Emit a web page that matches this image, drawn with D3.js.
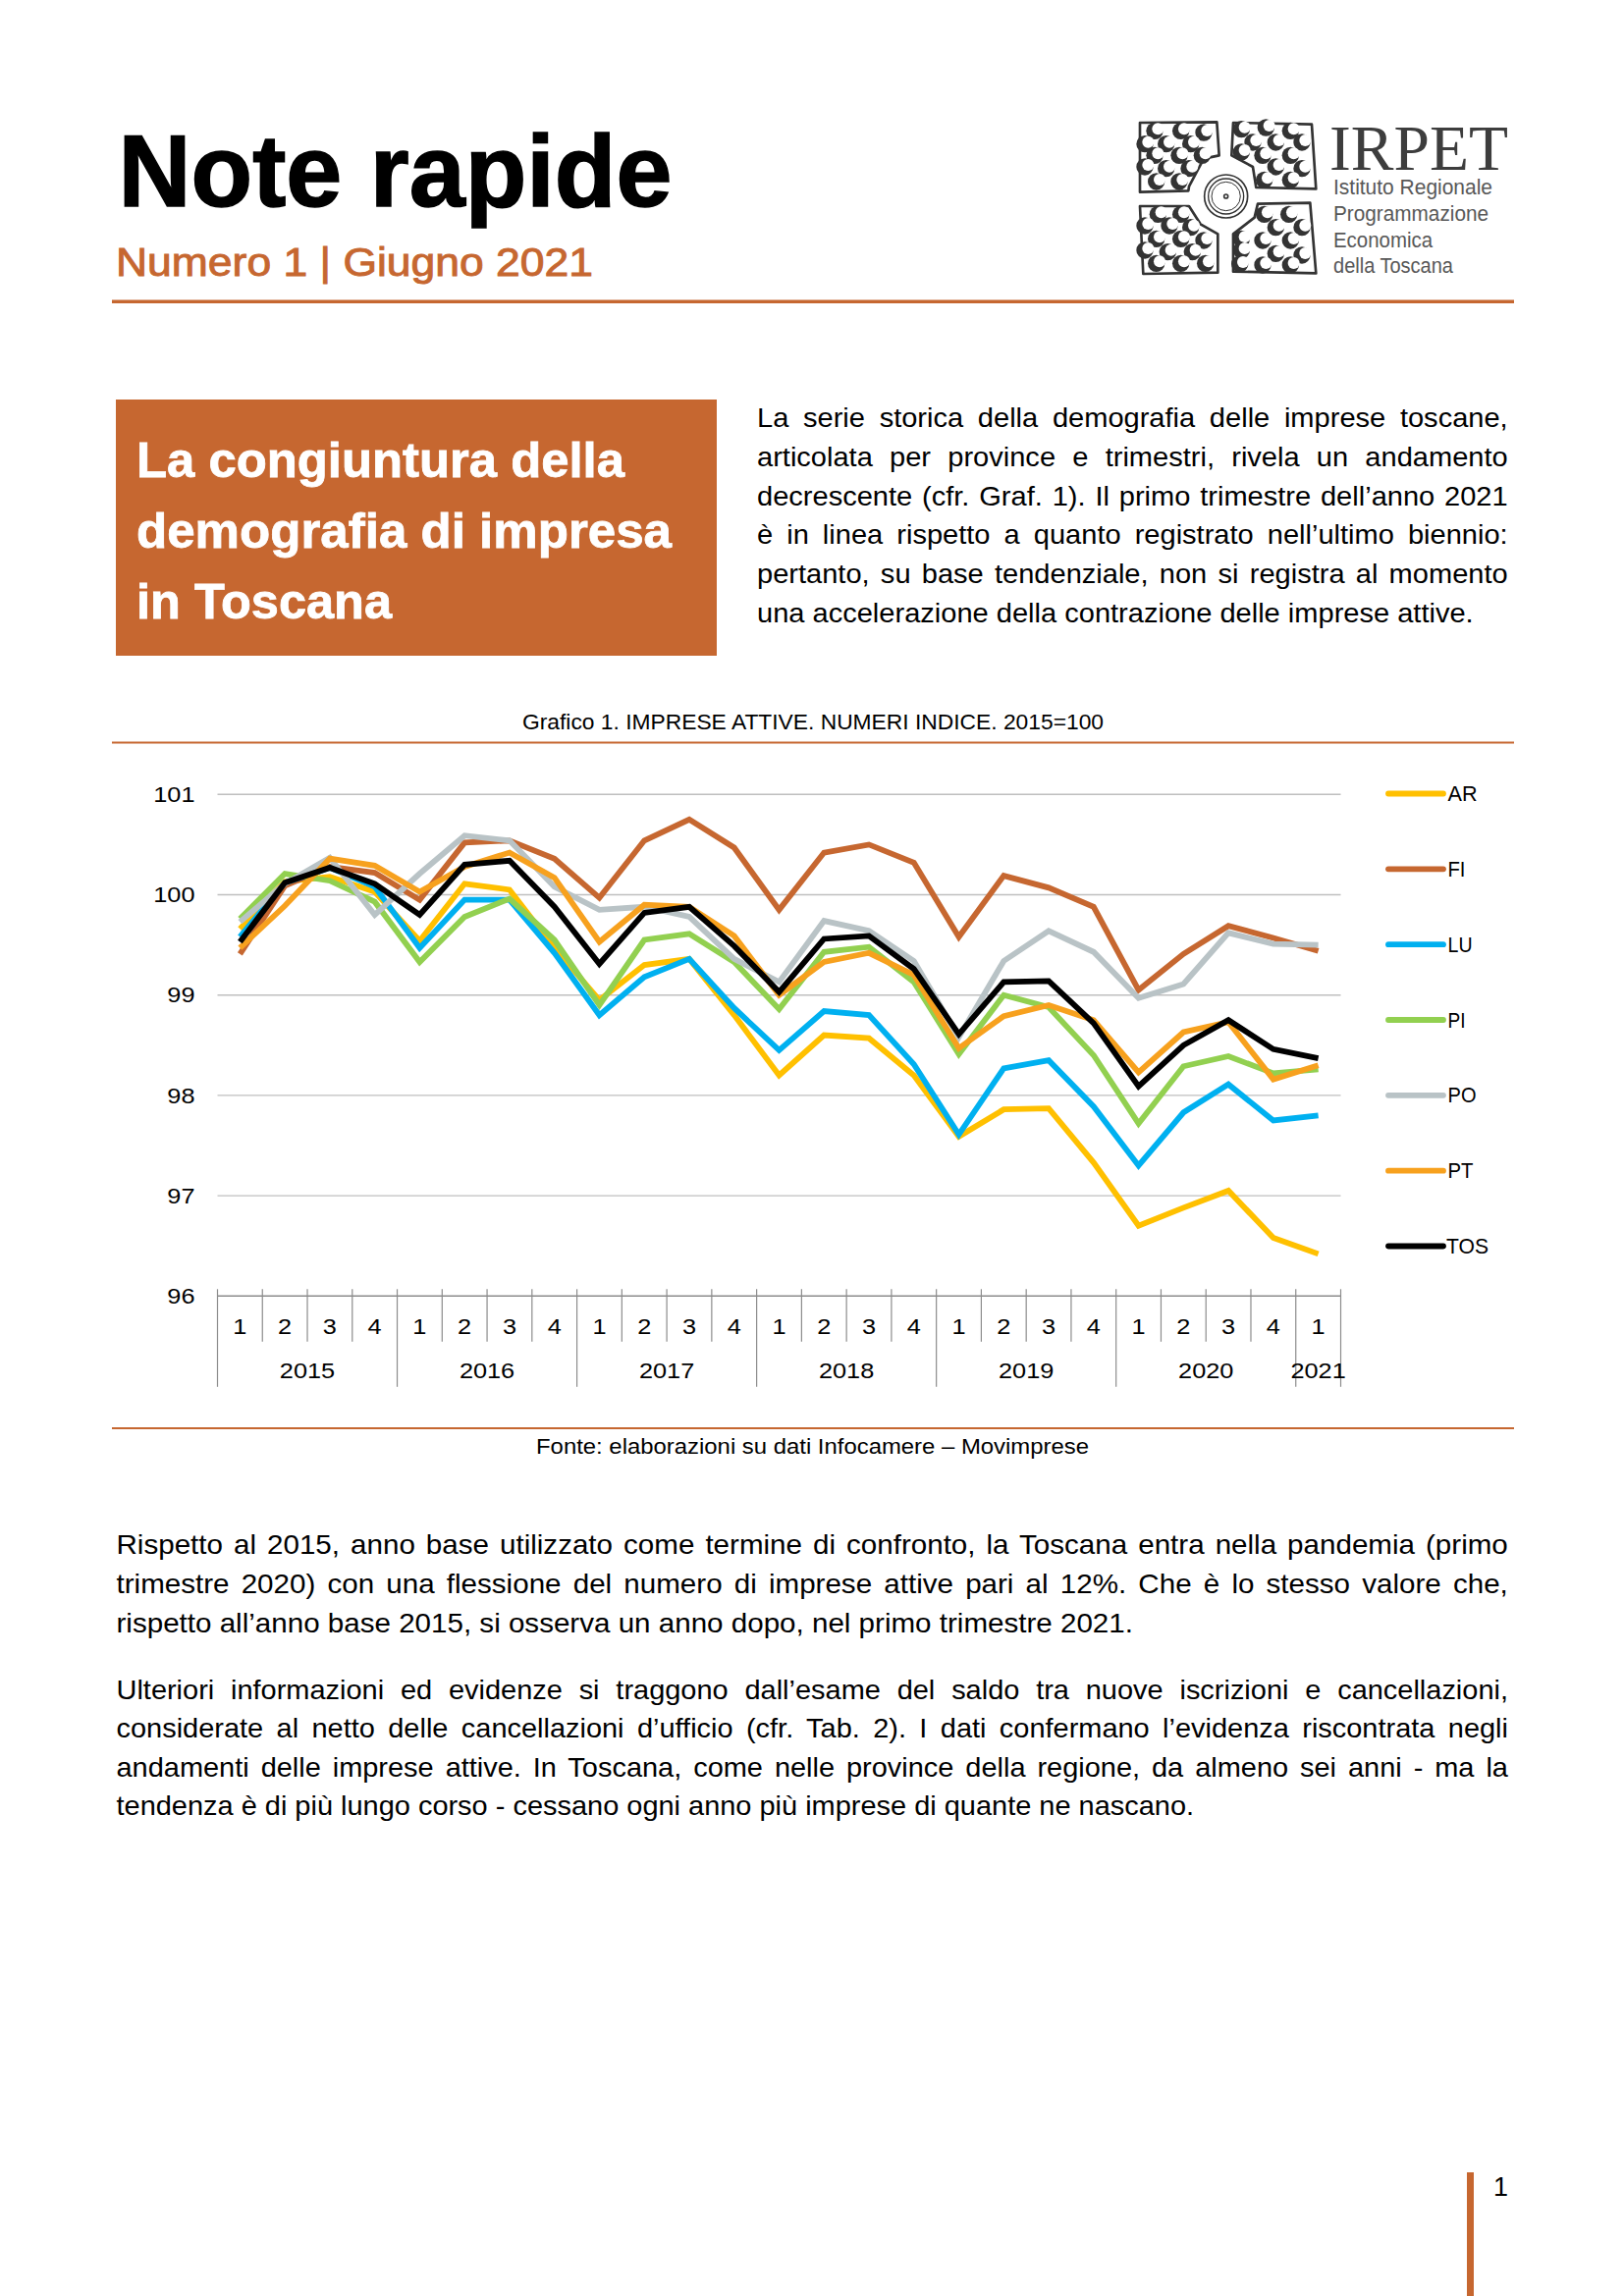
<!DOCTYPE html>
<html lang="it">
<head>
<meta charset="utf-8">
<title>Note rapide</title>
<script src="https://cdn.jsdelivr.net/npm/d3@7/dist/d3.min.js"></script>
<style>
html,body{margin:0;padding:0;background:#fff}
svg{display:block}
text{font-family:"Liberation Sans",Arial,sans-serif;fill:#000}
</style>
</head>
<body>
<svg id="page" width="1654" height="2339" viewBox="0 0 1654 2339"></svg>
<script>
// ---- chart data ----
const quarters = ["1","2","3","4","1","2","3","4","1","2","3","4","1","2","3","4","1","2","3","4","1","2","3","4","1"];
const years = ["2015","2016","2017","2018","2019","2020","2021"];
const yTicks = [96,97,98,99,100,101];
const AR  = [99.66,100.13,100.18,100.03,99.54,100.11,100.05,99.47,98.95,99.30,99.36,98.80,98.20,98.60,98.57,98.20,97.59,97.86,97.87,97.33,96.70,96.88,97.05,96.58,96.42];
const FI  = [99.41,100.09,100.28,100.22,99.95,100.52,100.54,100.36,99.97,100.54,100.75,100.47,99.85,100.42,100.50,100.32,99.58,100.19,100.07,99.88,99.05,99.41,99.69,99.57,99.44];
const LU  = [99.58,100.12,100.27,100.08,99.47,99.95,99.95,99.42,98.80,99.18,99.36,98.87,98.45,98.84,98.80,98.31,97.61,98.27,98.35,97.89,97.30,97.83,98.11,97.75,97.80];
const PI  = [99.76,100.21,100.14,99.93,99.33,99.78,99.96,99.55,98.90,99.55,99.61,99.33,98.86,99.43,99.48,99.13,98.41,99.00,98.88,98.40,97.72,98.29,98.39,98.22,98.26];
const PO  = [99.73,100.11,100.37,99.80,100.21,100.59,100.54,100.08,99.85,99.88,99.78,99.36,99.13,99.74,99.64,99.34,98.58,99.34,99.64,99.43,98.97,99.11,99.62,99.51,99.50];
const PT  = [99.47,99.89,100.36,100.29,100.03,100.28,100.42,100.17,99.53,99.90,99.88,99.59,99.00,99.33,99.42,99.20,98.47,98.79,98.90,98.75,98.23,98.63,98.73,98.16,98.30];
const TOS = [99.53,100.12,100.27,100.11,99.80,100.30,100.34,99.88,99.31,99.82,99.88,99.49,99.03,99.56,99.59,99.26,98.61,99.13,99.14,98.72,98.09,98.50,98.75,98.46,98.37];
const seriesNames = ["AR","FI","LU","PI","PO","PT","TOS"];
const seriesValues = [AR,FI,LU,PI,PO,PT,TOS];
const seriesColors = ["#FFC000","#C66730","#00B0F0","#92D050","#B9C3C6","#F7A11E","#000000"];

// ---- page text ----
const BRAND = "#C66730";
const svg = d3.select("#page");

function fit(txt, x, y, w, size, opt = {}) {
  const t = svg.append("text").attr("x", x).attr("y", y).attr("font-size", size)
    .attr("font-weight", opt.bold ? "bold" : "normal")
    .style("fill", opt.fill || "#000").text(txt);
  if (opt.family) t.style("font-family", opt.family);
  if (opt.heavy) t.style("stroke", opt.fill || "#000").style("stroke-width", opt.heavy);
  if (w) t.attr("textLength", w).attr("lengthAdjust", "spacingAndGlyphs");
  return t;
}

// justified block: glyphs condensed by the ratio of its last (free) line, word gaps fill the rest
function block(lines, x, width, lastWidth, size) {
  const nat = s => {
    const t = svg.append("text").attr("font-size", size).text(s);
    const w = t.node().getComputedTextLength();
    t.remove();
    return w;
  };
  const k = lastWidth / nat(lines[lines.length - 1][0]);
  lines.forEach((d, i) => {
    const t = svg.append("text").attr("font-size", size)
      .attr("transform", `translate(${x},${d[1]}) scale(${k},1)`).text(d[0]);
    if (i < lines.length - 1) {
      const gaps = d[0].split(" ").length - 1;
      t.style("word-spacing", ((width / k - nat(d[0])) / gaps) + "px");
    }
  });
}

svg.append("rect").attr("width",1654).attr("height",2339).attr("fill","#fff");

fit("Note rapide", 120.5, 210, 564, 104, {bold:true, heavy:1.5});
fit("Numero 1 | Giugno 2021", 118, 281, 486, 40, {fill:BRAND, heavy:0.9});
svg.append("rect").attr("x",114).attr("y",305.5).attr("width",1428).attr("height",3.5).attr("fill",BRAND);

svg.append("rect").attr("x",118).attr("y",407).attr("width",612).attr("height",261).attr("fill",BRAND);
[["La congiuntura della",486,497],["demografia di impresa",557.5,545],["in Toscana",630,260]].forEach(d =>
  fit(d[0],139,d[1],d[2],50,{bold:true,fill:"#fff",heavy:0.8}));

block([["La serie storica della demografia delle imprese toscane,",435],
 ["articolata per province e trimestri, rivela un andamento",475],
 ["decrescente (cfr. Graf. 1). Il primo trimestre dell’anno 2021",514.5],
 ["è in linea rispetto a quanto registrato nell’ultimo biennio:",554],
 ["pertanto, su base tendenziale, non si registra al momento",594],
 ["una accelerazione della contrazione delle imprese attive.",633.5]], 771, 765, 730, 28.5);

fit("Grafico 1. IMPRESE ATTIVE. NUMERI INDICE. 2015=100",532,743,592,21.5);
svg.append("rect").attr("x",114).attr("y",755.5).attr("width",1428).attr("height",2).attr("fill",BRAND);
svg.append("rect").attr("x",114).attr("y",1454).attr("width",1428).attr("height",2).attr("fill",BRAND);
fit("Fonte: elaborazioni su dati Infocamere – Movimprese",546,1481,563,21.5);

block([["Rispetto al 2015, anno base utilizzato come termine di confronto, la Toscana entra nella pandemia (primo",1583],
 ["trimestre 2020) con una flessione del numero di imprese attive pari al 12%. Che è lo stesso valore che,",1622.5],
 ["rispetto all’anno base 2015, si osserva un anno dopo, nel primo trimestre 2021.",1662.5]], 118.5, 1418, 1036, 28.5);
block([["Ulteriori informazioni ed evidenze si traggono dall’esame del saldo tra nuove iscrizioni e cancellazioni,",1730.5],
 ["considerate al netto delle cancellazioni d’ufficio (cfr. Tab. 2). I dati confermano l’evidenza riscontrata negli",1770],
 ["andamenti delle imprese attive. In Toscana, come nelle province della regione, da almeno sei anni - ma la",1809.5],
 ["tendenza è di più lungo corso - cessano ogni anno più imprese di quante ne nascano.",1849]], 118.5, 1418, 1098, 28.5);

svg.append("rect").attr("x",1494).attr("y",2213).attr("width",7).attr("height",126).attr("fill",BRAND);
fit("1",1521,2237,15,27);

// ---- logo ----
const logo = svg.append("g").attr("transform","translate(1151,115) scale(0.3333)");
const DARK = "#333";
const tiles = [
 {p:"30,30 265,28 272,130 225,140 180,225 178,238 30,242",
  c:[[75,55],[155,55],[225,60],[45,95],[110,95],[185,95],[75,130],[150,130],[220,130],[45,165],[110,170],[180,170],[80,210],[150,210]]},
 {p:"315,30 555,35 568,232 385,228 375,165 310,130",
  c:[[340,50],[415,45],[490,55],[375,90],[445,90],[525,90],[340,120],[405,130],[490,130],[445,165],[525,170],[410,205],[490,205]]},
 {p:"30,285 180,285 215,340 268,370 268,488 40,492",
  c:[[85,310],[155,310],[45,345],[120,345],[185,350],[80,385],[155,385],[225,390],[45,420],[115,425],[190,425],[80,460],[155,460],[230,460]]},
 {p:"390,278 550,275 568,490 315,485 315,370 380,320",
  c:[[410,310],[485,310],[445,350],[525,350],[340,385],[405,390],[490,390],[340,420],[445,430],[525,435],[405,465],[490,465],[335,462]]}
];
tiles.forEach(t => {
  logo.append("polygon").attr("points",t.p).attr("fill","#fff").attr("stroke",DARK).attr("stroke-width",8).attr("stroke-linejoin","round");
  t.c.forEach(c => {
    logo.append("circle").attr("cx",c[0]).attr("cy",c[1]).attr("r",26).attr("fill",DARK);
    logo.append("circle").attr("cx",c[0]+10).attr("cy",c[1]-6).attr("r",18).attr("fill","#fff");
  });
});
[[66,5],[54,4],[44,3]].forEach(r =>
  logo.append("circle").attr("cx",293).attr("cy",255).attr("r",r[0]).attr("fill","none").attr("stroke",DARK).attr("stroke-width",r[1]));
logo.append("circle").attr("cx",293).attr("cy",255).attr("r",6).attr("fill","none").attr("stroke",DARK).attr("stroke-width",5);

fit("IRPET",1354,173,182,65,{fill:"#3d3d3d",family:'"Liberation Serif",serif'});
[["Istituto Regionale",198,162],["Programmazione",225,158],["Economica",252,101],["della Toscana",278,122]]
 .forEach(d => fit(d[0],1358,d[1],d[2],22,{fill:"#585858"}));

// ---- chart ----
const x = d3.scaleBand().domain(d3.range(quarters.length)).range([221.5,1365.5]);
const y = d3.scaleLinear().domain([96,101]).range([1320.3,809.3]);
const chart = svg.append("g");

// horizontal gridlines + value labels
const yAxis = chart.append("g").attr("transform","translate(221.5,0)")
  .call(d3.axisLeft(y).tickValues(yTicks).tickSize(0).tickPadding(23).tickFormat(d3.format("d")));
yAxis.select(".domain").remove();
yAxis.selectAll("text").attr("font-size",22).style("font-family",'"Liberation Sans",sans-serif').attr("dy","0.33em");
chart.selectAll("line.grid").data(yTicks.filter(d => d > 96)).join("line").attr("class","grid")
  .attr("x1",221.5).attr("x2",1365.5).attr("y1",d=>y(d)).attr("y2",d=>y(d))
  .attr("stroke","#BFBFBF").attr("stroke-width",1.4);

// category axis
const xAxisG = chart.append("g").attr("transform",`translate(0,${y(96)})`);
xAxisG.append("line").attr("x1",221.5).attr("x2",1365.5).attr("stroke","#8C8C8C").attr("stroke-width",1.5);
const yearIndex = i => Math.floor(i/4);
const tickXs = d3.range(quarters.length).map(i => x(i)).concat([x.range()[1]]);
xAxisG.selectAll("line.tick").data(tickXs).join("line").attr("class","tick")
  .attr("x1",d=>d).attr("x2",d=>d).attr("y1",-7)
  .attr("y2",(d,i)=> (i%4===0 || i===quarters.length) ? 92.5 : 46.5)
  .attr("stroke","#8C8C8C").attr("stroke-width",1.2);
xAxisG.selectAll("text.q").data(quarters).join("text").attr("class","q")
  .attr("x",(d,i)=>x(i)+x.bandwidth()/2).attr("y",38.5).attr("text-anchor","middle").attr("font-size",22).text(d=>d);
xAxisG.selectAll("text.yr").data(years).join("text").attr("class","yr")
  .attr("x",(d,yi)=>{
    const idx = d3.range(quarters.length).filter(i=>yearIndex(i)===yi);
    return (x(idx[0]) + x(idx[idx.length-1]) + x.bandwidth())/2;
  })
  .attr("y",84).attr("text-anchor","middle").attr("font-size",22).text(d=>d);

// numeric labels are set wider than the fallback face
chart.selectAll("g text").each(function(){
  const w = this.getComputedTextLength();
  d3.select(this).attr("textLength",w*1.15).attr("lengthAdjust","spacingAndGlyphs");
});

// series
const line = d3.line().x((d,i)=>x(i)+x.bandwidth()/2).y(d=>y(d)).curve(d3.curveLinear);
chart.selectAll("path.series").data(seriesValues).join("path").attr("class","series")
  .attr("d",line).attr("fill","none").attr("stroke",(d,i)=>seriesColors[i])
  .attr("stroke-width",5.8).attr("stroke-linejoin","miter").attr("stroke-linecap","butt");

// legend
const legendY = d3.scalePoint().domain(seriesNames).range([808.5,1269.5]);
const legendW = [30,18,25,18,29,26,43];
const legend = chart.selectAll("g.leg").data(seriesNames).join("g").attr("class","leg")
  .attr("transform",d=>`translate(0,${legendY(d)})`);
legend.append("line").attr("x1",1414).attr("x2",1470).attr("stroke",(d,i)=>seriesColors[i])
  .attr("stroke-width",5.8).attr("stroke-linecap","round");
legend.append("text").attr("x",d=> d==="TOS"?1473:1474.5).attr("y",7.5).attr("font-size",22.5)
  .attr("textLength",(d,i)=>legendW[i]).attr("lengthAdjust","spacingAndGlyphs").text(d=>d);
</script>
</body>
</html>
